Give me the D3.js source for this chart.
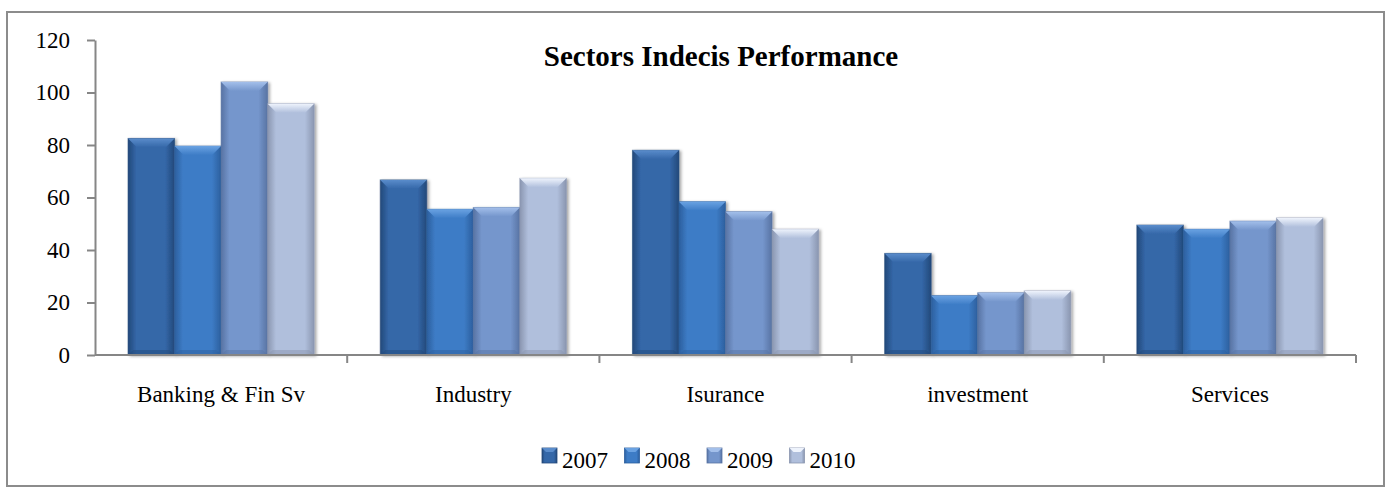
<!DOCTYPE html>
<html>
<head>
<meta charset="utf-8">
<script src="https://cdn.jsdelivr.net/npm/d3@7"></script>
<style>
  body { margin: 0; background: #fff; }
  svg { display: block; font-family: "Liberation Serif", "Times New Roman", serif; }
</style>
</head>
<body>
<svg width="1389" height="487"></svg>
<script>
var categories = ["Banking & Fin Sv", "Industry", "Isurance", "investment", "Services"]
var years = ["2007", "2008", "2009", "2010"]
var v2007 = [82.5, 66.7, 78, 38.7, 49.5]
var v2008 = [79.6, 55.5, 58.4, 22.6, 47.9]
var v2009 = [104, 56.2, 54.6, 23.7, 51]
var v2010 = [95.7, 67.3, 47.9, 24.4, 52.2]
var yTicks = [0, 20, 40, 60, 80, 100, 120]
var title = "Sectors Indecis Performance"

var seriesValues = [v2007, v2008, v2009, v2010]
var serif = '"Liberation Serif", "Times New Roman", serif'
// colours: edge, middle, top bevel
var palette = [
  {edge: "#23497a", mid: "#3467a8", top: "#5a8ccb"},
  {edge: "#2c5f9e", mid: "#3d7cc6", top: "#6aa2e2"},
  {edge: "#5873a3", mid: "#7596cc", top: "#a3bfea"},
  {edge: "#8a96b0", mid: "#b0bfdc", top: "#eef3fc"}
]

var svg = d3.select('svg')
var width = 1389
var height = 487
var margin = {left: 95, right: 33, top: 40, bottom: 132}
var axisColor = "#868686"

var x0 = d3.scaleBand()
  .domain(categories)
  .range([margin.left, width - margin.right])
  .paddingInner(0).paddingOuter(0)
var x1 = d3.scaleBand()
  .domain(years)
  .range([0, x0.bandwidth()])
  .paddingInner(0).paddingOuter(0.71)
var y = d3.scaleLinear()
  .domain([0, 120])
  .range([height - margin.bottom, margin.top])

// outer border
svg.append("rect")
  .attr("x", 7).attr("y", 12)
  .attr("width", 1377).attr("height", 474)
  .attr("fill", "#fff")
  .attr("stroke", "#8c8c8c")
  .attr("stroke-width", 2)

var defs = svg.append("defs")
palette.forEach((p, i) => {
  var g = defs.append("linearGradient").attr("id", "grad" + i)
    .attr("x1", "0%").attr("x2", "100%").attr("y1", "0%").attr("y2", "0%")
  g.append("stop").attr("offset", "0%").attr("stop-color", p.edge)
  g.append("stop").attr("offset", "18%").attr("stop-color", p.mid)
  g.append("stop").attr("offset", "80%").attr("stop-color", p.mid)
  g.append("stop").attr("offset", "100%").attr("stop-color", p.edge)
  var t = defs.append("linearGradient").attr("id", "top" + i)
    .attr("x1", "0%").attr("x2", "0%").attr("y1", "0%").attr("y2", "100%")
  t.append("stop").attr("offset", "0%").attr("stop-color", p.top)
  t.append("stop").attr("offset", "100%").attr("stop-color", p.mid)
})
var f = defs.append("filter").attr("id", "shadow")
  .attr("x", "-20%").attr("y", "-10%").attr("width", "150%").attr("height", "130%")
f.append("feDropShadow").attr("dx", 2).attr("dy", 1).attr("stdDeviation", 1.5)
  .attr("flood-color", "#000").attr("flood-opacity", 0.35)

// y axis
var yAxis = g => g
  .attr("transform", `translate(${margin.left},0)`)
  .attr("font-family", serif)
  .call(d3.axisLeft(y).tickValues(yTicks).tickSize(8).tickPadding(17).tickSizeOuter(0))
  .call(g => g.attr("font-family", serif))
  .call(g => g.select(".domain").attr("stroke", axisColor).attr("stroke-width", 2))
  .call(g => g.selectAll(".tick line").attr("stroke", axisColor).attr("stroke-width", 2))
  .call(g => g.selectAll(".tick text").attr("font-size", 23).attr("fill", "#000"))
svg.append("g").call(yAxis)

// x axis labels
var xAxis = g => g
  .attr("transform", `translate(0,${y(0)})`)
  .call(d3.axisBottom(x0).tickSize(0).tickPadding(31))
  .call(g => g.attr("font-family", serif))
  .call(g => g.select(".domain").remove())
  .call(g => g.selectAll(".tick text").attr("font-size", 23).attr("fill", "#000"))
svg.append("g").call(xAxis)

// bars
var groups = svg.append("g")
  .selectAll("g")
  .data(categories)
  .join("g")
  .attr("transform", d => `translate(${x0(d)},0)`)

var bevel = 9
var bars = groups.selectAll("g")
  .data((c, ci) => years.map((yr, si) => ({yr: yr, si: si, value: seriesValues[si][ci]})))
  .join("g")
  .attr("filter", "url(#shadow)")

bars.append("rect")
  .attr("x", d => x1(d.yr))
  .attr("y", d => y(d.value))
  .attr("width", x1.bandwidth())
  .attr("height", d => y(0) - y(d.value))
  .attr("fill", d => "url(#grad" + d.si + ")")
  .attr("stroke", d => palette[d.si].edge)
  .attr("stroke-opacity", 0.6)
  .attr("stroke-width", 1)

bars.append("path")
  .attr("d", d => {
    var xl = x1(d.yr), xr = xl + x1.bandwidth(), yt = y(d.value)
    return `M${xl},${yt}L${xr},${yt}L${xr - bevel},${yt + bevel}L${xl + bevel},${yt + bevel}Z`
  })
  .attr("fill", d => "url(#top" + d.si + ")")

bars.append("path")
  .attr("d", d => {
    var xl = x1(d.yr), xr = xl + x1.bandwidth(), yb = y(0)
    return `M${xl},${yb}L${xr},${yb}L${xr - 5},${yb - 5}L${xl + 5},${yb - 5}Z`
  })
  .attr("fill", d => palette[d.si].edge)
  .attr("opacity", 0.5)

// x axis line and category boundary ticks
svg.append("line")
  .attr("x1", margin.left).attr("x2", width - margin.right)
  .attr("y1", y(0)).attr("y2", y(0))
  .attr("stroke", axisColor).attr("stroke-width", 2)
svg.append("g")
  .selectAll("line")
  .data(categories.slice(1).concat(["end"]))
  .join("line")
  .attr("x1", (d, i) => x0(categories[0]) + x0.step() * (i + 1))
  .attr("x2", (d, i) => x0(categories[0]) + x0.step() * (i + 1))
  .attr("y1", y(0)).attr("y2", y(0) + 8)
  .attr("stroke", axisColor).attr("stroke-width", 2)

// title
svg.append("text")
  .attr("x", 721).attr("y", 66)
  .attr("text-anchor", "middle")
  .attr("font-size", 29)
  .attr("font-weight", "bold")
  .text(title)

// legend
var legend = svg.append("g")
  .selectAll("g")
  .data(years)
  .join("g")
  .attr("transform", (d, i) => `translate(${542 + i * 82.5},448)`)
legend.append("rect")
  .attr("width", 15).attr("height", 15)
  .attr("fill", (d, i) => "url(#grad" + i + ")")
  .attr("stroke", (d, i) => palette[i].edge).attr("stroke-width", 0.8)
legend.append("path")
  .attr("d", "M0,0L15,0L11,4L4,4Z")
  .attr("fill", (d, i) => palette[i].top)
legend.append("text")
  .attr("x", 20).attr("y", 20)
  .attr("font-size", 23)
  .text(d => d)
</script>
</body>
</html>
